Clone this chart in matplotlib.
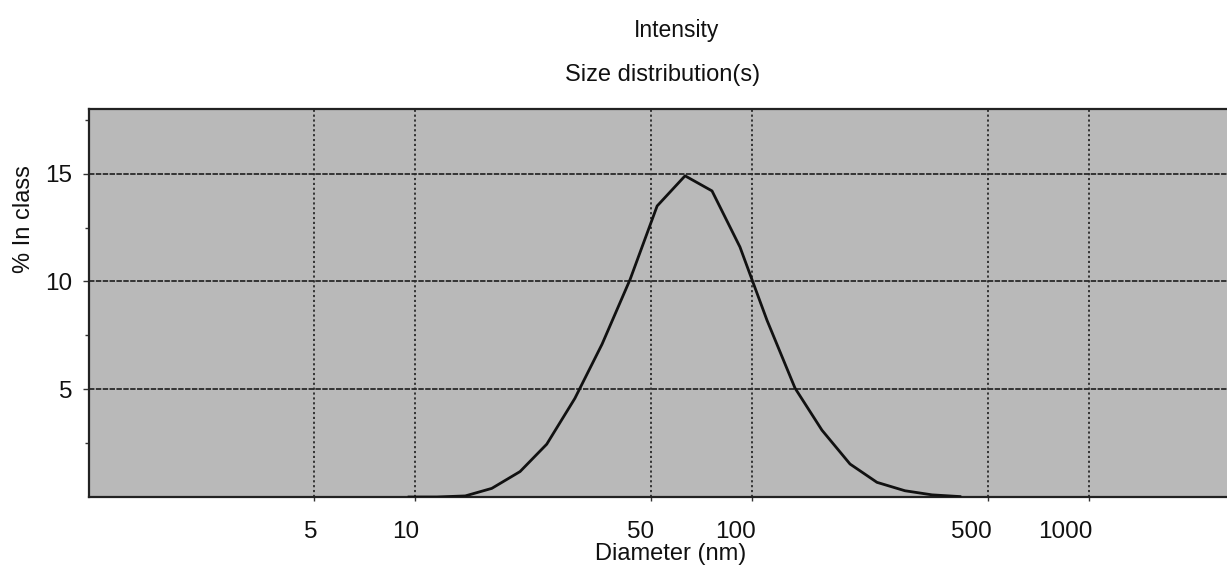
import matplotlib
matplotlib.use("Agg")
import matplotlib.pyplot as plt
import matplotlib.transforms as mtrans
from matplotlib.ticker import FixedLocator, NullLocator

plt.rcParams['font.family'] = ['Liberation Sans', 'DejaVu Sans']

# Data
diameter_nm = [9.6, 11.6, 14.1, 16.9, 20.5, 24.6, 29.8, 35.9, 43.5, 52.3, 63.3,
               76.1, 92.1, 110.8, 134.2, 161.3, 195.4, 234.9, 284.4, 342.0, 414.0]
percent_in_class = [0.0, 0.0, 0.05, 0.4, 1.18, 2.45, 4.57, 7.09, 10.1, 13.5, 14.9,
                    14.2, 11.6, 8.2, 5.05, 3.1, 1.53, 0.68, 0.29, 0.1, 0.02]
x_ticks = [5, 10, 50, 100, 500, 1000]
x_tick_labels = ["5", "10", "50", "100", "500", "1000"]
y_ticks = [5, 10, 15]
y_tick_labels = ["5", "10", "15"]
y_minor = [2.5, 7.5, 12.5, 17.5]

W, H = 1227, 568
fig = plt.figure(figsize=(W / 100, H / 100), dpi=100)
left, right, top, bottom = 89, 1227, 109, 497
ax = fig.add_axes([left / W, 1 - bottom / H, (right - left) / W, (bottom - top) / H])
ax.set_facecolor('#b9b9b9')

ax.set_xscale('log')
ax.set_xlim(1.078, 2568)
ax.set_ylim(0, 18)

for xv in x_ticks:
    ax.axvline(xv, color='#2a2a2a', lw=1.3, ls=(0, (1.2, 1.5)), zorder=1)
for yv in y_ticks:
    ax.axhline(yv, color='#2a2a2a', lw=1.3, ls=(0, (3, 0.8)), zorder=1)

ax.plot(diameter_nm, percent_in_class, color='#111111', lw=2.0, zorder=3)

ax.xaxis.set_major_locator(FixedLocator(x_ticks))
ax.xaxis.set_minor_locator(NullLocator())
ax.set_xticklabels(x_tick_labels)
ax.yaxis.set_major_locator(FixedLocator(y_ticks))
ax.yaxis.set_minor_locator(FixedLocator(y_minor))
ax.set_yticklabels(y_tick_labels)

ax.tick_params(axis='x', which='major', length=3, width=1, color='#333333',
               labelsize=17.5, pad=14, labelcolor='#111111')
ax.tick_params(axis='y', which='major', length=4, width=1, color='#333333',
               labelsize=17.5, pad=8, labelcolor='#111111')
ax.tick_params(axis='y', which='minor', length=3, width=1, color='#333333')

offset = mtrans.ScaledTranslation(4 / 100, 0, fig.dpi_scale_trans)
for lab in ax.get_xticklabels():
    lab.set_ha('right')
    lab.set_transform(lab.get_transform() + offset)

for s in ['left', 'bottom', 'top']:
    ax.spines[s].set_color('#222222')
    ax.spines[s].set_linewidth(1.6)
ax.spines['right'].set_visible(False)

fig.text(677 / W, 1 - 30 / H, "Intensity", ha='center', va='center',
         fontsize=16.5, color='#111111')
fig.text(663 / W, 1 - 75 / H, "Size distribution(s)", ha='center', va='center',
         fontsize=17, color='#111111')
fig.text(671 / W, 1 - 554 / H, "Diameter (nm)", ha='center', va='center',
         fontsize=17, color='#111111')
fig.text(24 / W, 1 - 219 / H, "% In class", ha='center', va='center',
         rotation=90, fontsize=17, color='#111111')

fig.savefig("out.png", dpi=100, facecolor='white')
